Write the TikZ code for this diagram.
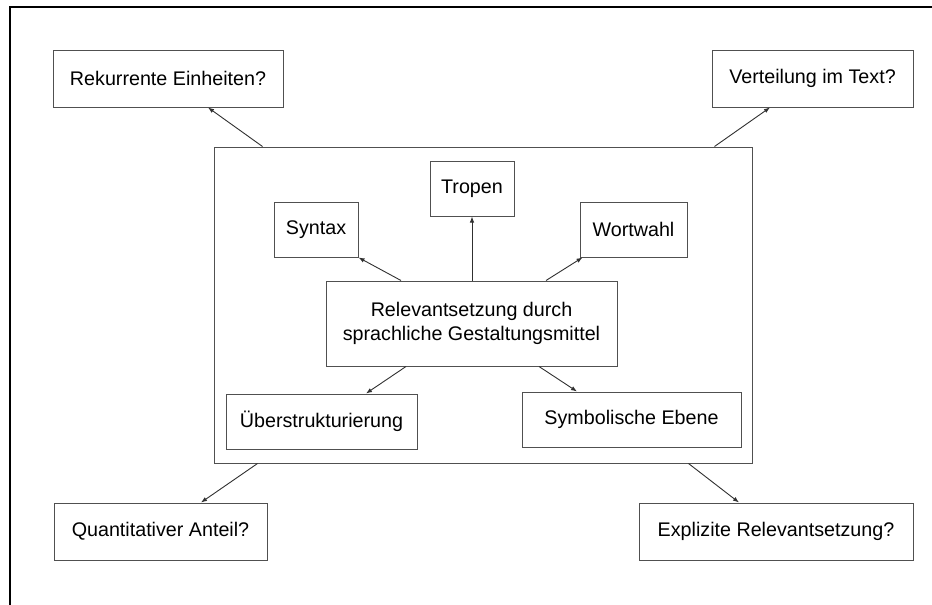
\documentclass[tikz,border=0pt]{standalone}
\usepackage{fontspec}
\setmainfont{Liberation Sans}
\usetikzlibrary{arrows.meta}
\definecolor{boxline}{HTML}{505050}
\definecolor{conn}{HTML}{303030}
\tikzset{
  box/.style={draw=boxline, line width=1pt, rectangle, inner sep=0pt, align=center,
    font=\fontsize{19.7}{23.5}\selectfont},
  arr/.style={draw=conn, line width=0.9pt, -{Latex[length=6pt,width=4.5pt]}},
}
\begin{document}
\begin{tikzpicture}[x=1pt,y=-1pt]
\useasboundingbox (0,0) rectangle (932,605);
% outer frame (left and top edges visible)
\draw[line width=2pt, black] (10,610) -- (10,7) -- (940,7);
% inner frame
\node[box, minimum width=538pt, minimum height=316pt] (inner) at (483,305) {};
% outer question boxes
\node[box, minimum width=230pt, minimum height=57pt] (rek) at (168,78.5) {Rekurrente Einheiten?};
\node[box, minimum width=201pt, minimum height=57pt] (ver) at (812.5,78.5) {Verteilung im Text?};
\node[box, minimum width=213pt, minimum height=57pt] (qua) at (160.5,531.5) {Quantitativer Anteil?};
\node[box, minimum width=274pt, minimum height=57pt] (exp) at (776,531.5) {Explizite Relevantsetzung?};
% inner boxes
\node[box, minimum width=84pt, minimum height=55pt] (tro) at (472,188.5) {Tropen};
\node[box, minimum width=84pt, minimum height=55pt] (syn) at (316,229.5) {Syntax};
\node[box, minimum width=107pt, minimum height=55pt] (wor) at (633.5,229.5) {Wortwahl};
\node[box, minimum width=291pt, minimum height=85pt] (cen) at (471.5,323.5) {Relevantsetzung durch\\sprachliche Gestaltungsmittel};
\node[box, minimum width=191pt, minimum height=55pt] (ueb) at (321.5,421.5) {Überstrukturierung};
\node[box, minimum width=219pt, minimum height=55pt] (sym) at (631.5,419.5) {Symbolische Ebene};
% connectors inside
\draw[arr] ([xshift=-70.5pt]cen.north) -- (syn.south east);
\draw[arr] (cen.north -| tro.south) -- (tro.south);
\draw[arr] ([xshift=74.5pt]cen.north) -- ([xshift=3pt]wor.south west);
\draw[arr] ([xshift=-65.5pt]cen.south) -- ([xshift=44.5pt]ueb.north);
\draw[arr] ([xshift=67.5pt]cen.south) -- ([xshift=-54.5pt]sym.north);
% connectors outside
\draw[arr] ([xshift=49pt]inner.north west) -- ([xshift=40pt]rek.south);
\draw[arr] ([xshift=-38pt]inner.north east) -- ([xshift=-42.5pt]ver.south);
\draw[arr] ([xshift=44pt]inner.south west) -- ([xshift=40.5pt]qua.north);
\draw[arr] ([xshift=-64pt]inner.south east) -- ([xshift=-37pt]exp.north);
\end{tikzpicture}
\end{document}
